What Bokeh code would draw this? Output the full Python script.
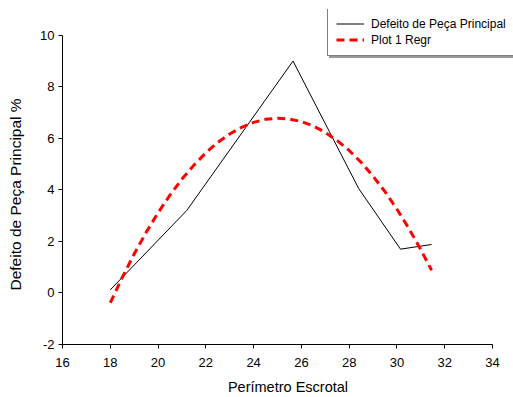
from bokeh.plotting import figure
from bokeh.models import Range1d, FixedTicker, Legend, LegendItem, Title
from bokeh.embed import file_html
from bokeh.resources import INLINE

# Observed data (black line)
perimetro = [18.0, 21.2, 25.65, 28.4, 30.15, 31.45]
defeito = [0.12, 3.2, 9.0, 4.05, 1.7, 1.88]

# Regression curve
regr_x = [18.0, 18.5, 19.0, 19.5, 20.0, 20.5, 21.0, 21.5, 22.0, 22.5, 23.0, 23.5, 24.0,
          24.5, 25.0, 25.5, 26.0, 26.5, 27.0, 27.5, 28.0, 28.5, 29.0, 29.5, 30.0,
          30.5, 31.0, 31.45]
regr_y = [-0.38, 0.6, 1.51, 2.35, 3.11, 3.8, 4.42, 4.96, 5.44, 5.84, 6.17, 6.43, 6.62,
          6.74, 6.78, 6.75, 6.65, 6.48, 6.23, 5.91, 5.53, 5.07, 4.53, 3.93, 3.25,
          2.5, 1.68, 0.88]

x_ticks = [16, 18, 20, 22, 24, 26, 28, 30, 32, 34]
y_ticks = [-2, 0, 2, 4, 6, 8, 10]
y_tick_labels = {t: str(t) for t in y_ticks}

FONT = "Liberation Sans"

# ranges extend beyond the axes to leave room for the legend; axis lines stop at 34 / 10
p = figure(width=513, height=397, output_backend="svg", toolbar_location=None,
           x_range=Range1d(16, 34.879), y_range=Range1d(-2, 11.0),
           min_border_left=62, min_border_right=0, min_border_top=9, min_border_bottom=53)
p.outline_line_color = None
p.xgrid.grid_line_color = None
p.ygrid.grid_line_color = None

for ax, ticks in ((p.xaxis[0], x_ticks), (p.yaxis[0], y_ticks)):
    ax.ticker = FixedTicker(ticks=ticks)
    ax.minor_tick_line_color = None
    ax.major_tick_out = 4
    ax.major_tick_in = 0
    ax.axis_line_color = "black"
    ax.major_tick_line_color = "black"
    ax.major_label_text_font = FONT
    ax.major_label_text_font_size = "13px"
    ax.major_label_text_color = "black"
    ax.axis_label_text_font = FONT
    ax.axis_label_text_font_size = "14.5px"
    ax.axis_label_text_font_style = "normal"
    ax.axis_label_text_color = "black"

p.xaxis.bounds = (16, 34)
p.yaxis.bounds = (-2, 10)
p.yaxis.major_label_overrides = y_tick_labels
p.xaxis.axis_label = "Perímetro Escrotal"
p.xaxis.major_label_standoff = 9
p.yaxis.major_label_standoff = 4
p.xaxis.axis_label_standoff = 9
# blank spacer label on the y axis pushes the real (title) label outward
p.yaxis.axis_label = " "
p.yaxis.axis_label_text_font_size = "1px"
p.yaxis.axis_label_standoff = 7

ylab = Title(text="Defeito de Peça Principal %", align="left", offset=54,
             text_font=FONT, text_font_size="15.5px", text_font_style="normal",
             text_color="black", standoff=4)
p.add_layout(ylab, "left")

r1 = p.line(perimetro, defeito, line_color="black", line_width=1)
r2 = p.line(regr_x, regr_y, line_color="#ff0000", line_width=3, line_dash="8 5")

common = dict(orientation="vertical", padding=8, spacing=1, margin=0, glyph_width=28,
              glyph_height=15, label_height=15, label_standoff=7, label_width=135,
              label_text_font=FONT, label_text_font_size="12px")
shadow_items = [LegendItem(label=" ", renderers=[r1]),
                LegendItem(label=" ", renderers=[r2])]
items = [LegendItem(label="Defeito de Peça Principal", renderers=[r1]),
         LegendItem(label="Plot 1 Regr", renderers=[r2])]
shadow = Legend(items=shadow_items, location=(267, 286), label_text_color="#999999",
                border_line_color="#999999", border_line_width=1,
                background_fill_color="#999999", background_fill_alpha=1.0, **common)
legend = Legend(items=items, location=(265, 288), label_text_color="black",
                border_line_color="black", border_line_width=1,
                background_fill_color="white", background_fill_alpha=1.0, **common)
p.add_layout(shadow, "center")
p.add_layout(legend, "center")

open("out.html", "w").write(file_html(p, INLINE))
